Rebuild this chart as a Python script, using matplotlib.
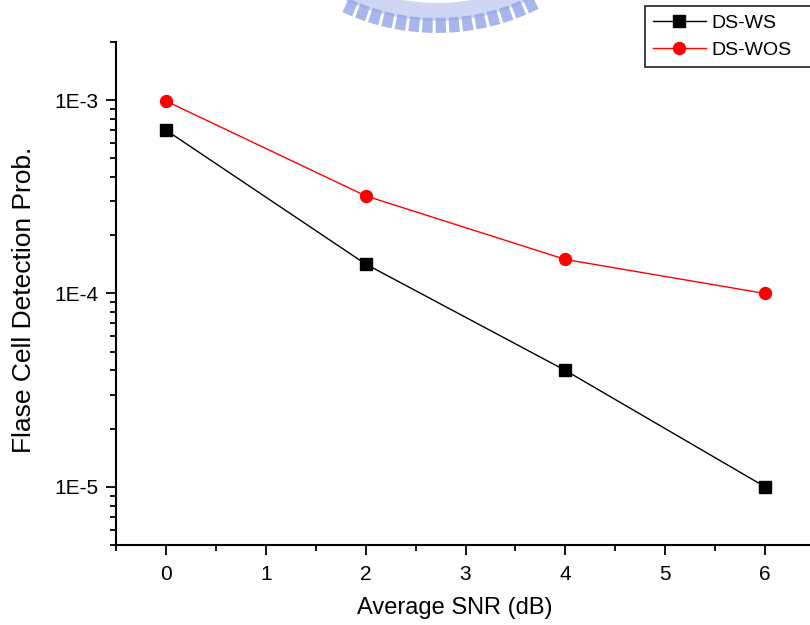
import numpy as np
import matplotlib
matplotlib.use("Agg")
import matplotlib.pyplot as plt
from matplotlib.patches import Wedge, Polygon
from matplotlib.ticker import LogLocator, FixedLocator, NullFormatter

plt.rcParams['font.family'] = ['Liberation Sans', 'DejaVu Sans']

snr_db = [0, 2, 4, 6]
ds_ws = [7.0e-4, 1.42e-4, 4.0e-5, 1.0e-5]
ds_wos = [9.9e-4, 3.2e-4, 1.5e-4, 1.0e-4]
series_names = ["DS-WS", "DS-WOS"]
y_tick_values = [1e-5, 1e-4, 1e-3]
y_tick_labels = ["1E-5", "1E-4", "1E-3"]
x_tick_values = [0, 1, 2, 3, 4, 5, 6]

W, H = 810, 625
fig = plt.figure(figsize=(W / 100, H / 100), dpi=100)

# faint emblem at the top edge of the page
bg = fig.add_axes([0, 0, 1, 1], zorder=0)
bg.set_xlim(0, W)
bg.set_ylim(H, 0)
bg.axis("off")
cx, cy = 437, -192
emblem = "#93a4e8"
bg.add_patch(Wedge((cx, cy), 213, 58, 122, width=18, facecolor=emblem,
                   edgecolor="none", alpha=0.45))
for ang in np.arange(64.5, 116, 3.5):
    a = np.deg2rad(ang)
    half = np.deg2rad(1.35)
    r0, r1 = 210, 225
    pts = [(cx + r0 * np.cos(a - half), cy + r0 * np.sin(a - half)),
           (cx + r1 * np.cos(a - half), cy + r1 * np.sin(a - half)),
           (cx + r1 * np.cos(a + half), cy + r1 * np.sin(a + half)),
           (cx + r0 * np.cos(a + half), cy + r0 * np.sin(a + half))]
    bg.add_patch(Polygon(pts, closed=True, facecolor=emblem, edgecolor="none",
                         alpha=0.8))

left, right, top, bottom = 116, 815, 42, 545
ax = fig.add_axes([left / W, 1 - bottom / H, (right - left) / W, (bottom - top) / H],
                  zorder=1)
ax.patch.set_alpha(0)

ax.plot(snr_db, ds_ws, color="black", lw=1.0, marker="s", ms=8.2,
        markerfacecolor="black", markeredgecolor="black", label=series_names[0],
        zorder=3)
ax.plot(snr_db, ds_wos, color="red", lw=1.0, marker="o", ms=8.6,
        markerfacecolor="red", markeredgecolor="red", label=series_names[1],
        zorder=3)

ax.set_yscale("log")
ax.set_ylim(5e-6, 2e-3)
ax.set_xlim(-0.5, 6.5)

ax.yaxis.set_major_locator(FixedLocator(y_tick_values))
ax.set_yticklabels(y_tick_labels)
ax.yaxis.set_minor_locator(LogLocator(base=10, subs=np.arange(2, 10)))
ax.yaxis.set_minor_formatter(NullFormatter())
ax.xaxis.set_major_locator(FixedLocator(x_tick_values))
ax.set_xticklabels([str(v) for v in x_tick_values])
ax.xaxis.set_minor_locator(FixedLocator(np.arange(-0.5, 6.6, 1.0)))

for side in ("top", "right"):
    ax.spines[side].set_visible(False)
for side in ("left", "bottom"):
    ax.spines[side].set_linewidth(1.5)

ax.tick_params(which="major", direction="out", length=7.5, width=1.3,
               labelsize=15)
ax.tick_params(axis="x", which="major", pad=7)
ax.tick_params(axis="y", which="major", pad=5)
ax.tick_params(which="minor", direction="out", length=4, width=1.3)

ax.set_xlabel("Average SNR (dB)", fontsize=17)
ax.xaxis.set_label_coords((455 - left) / (right - left), -(608 - bottom) / (bottom - top),
                          transform=ax.transAxes)
ax.xaxis.label.set_va("center")
ax.set_ylabel("Flase Cell Detection Prob.", fontsize=19)
ax.yaxis.set_label_coords(-(left - 24) / (right - left), (bottom - 300) / (bottom - top),
                          transform=ax.transAxes)
ax.yaxis.label.set_va("center")

# legend box runs past the right edge of the page
leg_w = 180
leg = fig.legend(loc="upper left",
                 bbox_to_anchor=(645 / W, 1 - 66 / H, leg_w / W, 60 / H),
                 mode="expand",
                 fontsize=14, frameon=True, fancybox=False, shadow=False,
                 borderpad=0.42, labelspacing=0.5, handlelength=2.7,
                 handletextpad=0.3, borderaxespad=0.0)
leg.get_frame().set_edgecolor("black")
leg.get_frame().set_linewidth(1.3)
leg.set_zorder(5)

fig.savefig("out.png", dpi=100)
